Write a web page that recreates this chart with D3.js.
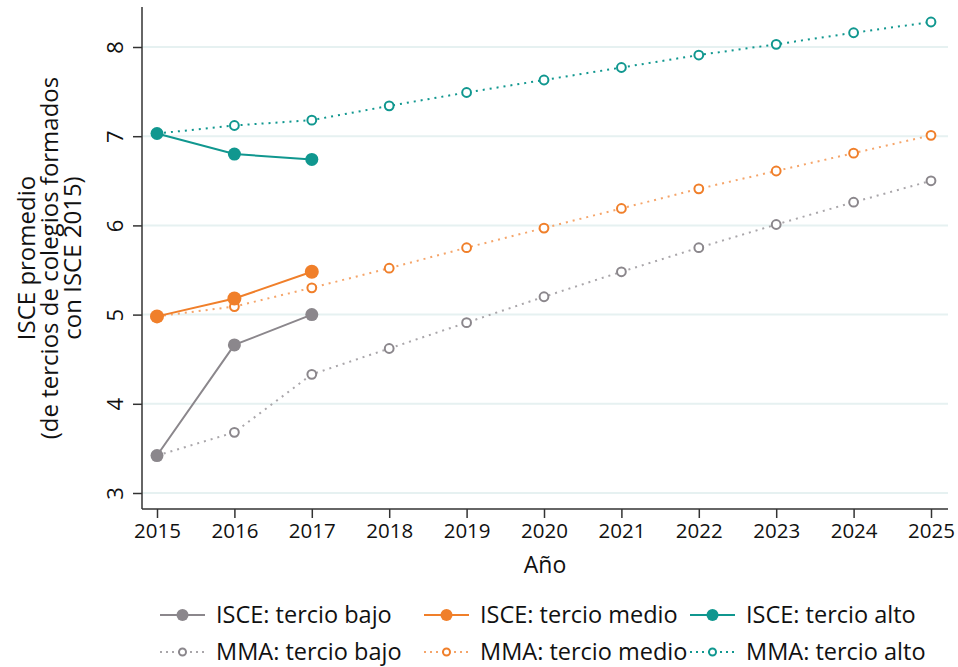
<!DOCTYPE html>
<html>
<head>
<meta charset="utf-8">
<script src="https://d3js.org/d3.v7.min.js"></script>
<style>
  body { margin: 0; background: #fff; }
  text { font-family: "Open Sans", "Lato", sans-serif; fill: #111; }
</style>
</head>
<body>
<script>
    // data
    let years = [2015, 2016, 2017, 2018, 2019, 2020, 2021, 2022, 2023, 2024, 2025];
    let isceYears = [2015, 2016, 2017];

    let isceBajo = [3.42, 4.66, 5.00];
    let isceMedio = [4.98, 5.18, 5.48];
    let isceAlto = [7.03, 6.80, 6.74];

    let mmaBajo = [3.42, 3.68, 4.33, 4.62, 4.91, 5.20, 5.48, 5.75, 6.01, 6.26, 6.50];
    let mmaMedio = [4.98, 5.09, 5.30, 5.52, 5.75, 5.97, 6.19, 6.41, 6.61, 6.81, 7.01];
    let mmaAlto = [7.03, 7.12, 7.18, 7.34, 7.49, 7.63, 7.77, 7.91, 8.03, 8.16, 8.28];

    let yTicks = [3, 4, 5, 6, 7, 8];

    let width = 958, height = 667;
    let plotLeft = 142, plotRight = 948, plotTop = 7, plotBottom = 509;

    let svg = d3.select("body").append("svg")
        .attr("width", width)
        .attr("height", height);

    let x = d3.scaleLinear().domain([2015, 2025]).range([157, 931]);
    let y = d3.scaleLinear().domain([3, 8]).range([493, 47]);

    // gridlines
    svg.append("g")
        .selectAll("line")
        .data(yTicks)
        .join("line")
            .attr("x1", plotLeft)
            .attr("x2", plotRight)
            .attr("y1", d => y(d))
            .attr("y2", d => y(d))
            .attr("stroke", "#e6f1f1")
            .attr("stroke-width", 2);

    // y axis
    let yAxis = svg.append("g")
        .attr("transform", `translate(${plotLeft},0)`)
        .call(d3.axisLeft(y).tickValues(yTicks).tickFormat(d3.format("d")).tickSize(9).tickPadding(8).tickSizeOuter(0));
    yAxis.select(".domain").remove();
    yAxis.selectAll(".tick line").attr("stroke", "#333").attr("stroke-width", 1.5);
    yAxis.selectAll(".tick text")
        .attr("font-size", 22)
        .attr("text-anchor", "middle")
        .attr("x", null)
        .attr("dy", null)
        .attr("transform", "translate(-25,0) rotate(-90)")
        .attr("dominant-baseline", "middle");

    // x axis
    let xAxis = svg.append("g")
        .attr("transform", `translate(0,${plotBottom})`)
        .call(d3.axisBottom(x).tickValues(years).tickFormat(d3.format("d")).tickSize(9).tickPadding(5).tickSizeOuter(0));
    xAxis.select(".domain").remove();
    xAxis.selectAll(".tick line").attr("stroke", "#333").attr("stroke-width", 1.5);
    xAxis.selectAll(".tick text").attr("font-size", 20.5);

    // axis lines
    svg.append("line")
        .attr("x1", plotLeft).attr("x2", plotLeft)
        .attr("y1", plotTop).attr("y2", plotBottom)
        .attr("stroke", "#333").attr("stroke-width", 1.5);
    svg.append("line")
        .attr("x1", plotLeft).attr("x2", plotRight)
        .attr("y1", plotBottom).attr("y2", plotBottom)
        .attr("stroke", "#333").attr("stroke-width", 1.5);

    // axis titles
    svg.append("text")
        .attr("x", 545).attr("y", 573)
        .attr("text-anchor", "middle")
        .attr("font-size", 23)
        .text("Año");

    let yTitle = svg.append("text")
        .attr("transform", "translate(50,258) rotate(-90)")
        .attr("text-anchor", "middle")
        .attr("font-size", 24);
    ["ISCE promedio", "(de tercios de colegios formados", "con ISCE 2015)"].forEach((t, i) => {
        yTitle.append("tspan")
            .attr("x", 0)
            .attr("y", -15 + i * 23)
            .text(t);
    });

    let gray = "#8b878c", orange = "#f07f2a", teal = "#10978f";
    let grayLight = "#a9a6aa", orangeLight = "#f5a56a";

    let line = d3.line().x(d => x(d[0])).y(d => y(d[1]));

    let series = [
        { name: "MMA: tercio bajo", xs: years, vals: mmaBajo, color: grayLight, mark: gray, dashed: true, r: 6.5 },
        { name: "MMA: tercio medio", xs: years, vals: mmaMedio, color: orangeLight, mark: orange, dashed: true, r: 7 },
        { name: "MMA: tercio alto", xs: years, vals: mmaAlto, color: teal, mark: teal, dashed: true, r: 6.5 },
        { name: "ISCE: tercio bajo", xs: isceYears, vals: isceBajo, color: gray, mark: gray, dashed: false, r: 6.5 },
        { name: "ISCE: tercio medio", xs: isceYears, vals: isceMedio, color: orange, mark: orange, dashed: false, r: 7 },
        { name: "ISCE: tercio alto", xs: isceYears, vals: isceAlto, color: teal, mark: teal, dashed: false, r: 6.5 }
    ];

    series.forEach(s => {
        let pts = s.xs.map((yr, i) => [yr, s.vals[i]]);
        svg.append("path")
            .datum(pts)
            .attr("d", line)
            .attr("fill", "none")
            .attr("stroke", s.color)
            .attr("stroke-width", 2)
            .attr("stroke-dasharray", s.dashed ? "2,5" : null);
        svg.append("g")
            .selectAll("circle")
            .data(pts)
            .join("circle")
                .attr("cx", d => x(d[0]))
                .attr("cy", d => y(d[1]))
                .attr("r", s.dashed ? 4.4 : s.r)
                .attr("fill", s.dashed ? "#fff" : s.mark)
                .attr("stroke", s.mark)
                .attr("stroke-width", s.dashed ? 2 : 0);
    });

    // legend
    let legendItems = [
        { name: "ISCE: tercio bajo", color: gray, mark: gray, dashed: false },
        { name: "ISCE: tercio medio", color: orange, mark: orange, dashed: false },
        { name: "ISCE: tercio alto", color: teal, mark: teal, dashed: false },
        { name: "MMA: tercio bajo", color: grayLight, mark: gray, dashed: true },
        { name: "MMA: tercio medio", color: orangeLight, mark: orange, dashed: true },
        { name: "MMA: tercio alto", color: teal, mark: teal, dashed: true }
    ];
    let colX = [160, 424, 690];
    let rowY = [615, 652];

    legendItems.forEach((d, i) => {
        let cx = colX[i % 3], cy = rowY[Math.floor(i / 3)];
        let g = svg.append("g").attr("transform", `translate(${cx},${cy})`);
        g.append("line")
            .attr("x1", 0).attr("x2", 45)
            .attr("stroke", d.color)
            .attr("stroke-width", 2)
            .attr("stroke-dasharray", d.dashed ? "2,4" : null);
        g.append("circle")
            .attr("cx", 22.5)
            .attr("r", d.dashed ? 3.5 : 6)
            .attr("fill", d.dashed ? "#fff" : d.mark)
            .attr("stroke", d.mark)
            .attr("stroke-width", d.dashed ? 2 : 0);
        g.append("text")
            .attr("x", 56)
            .attr("dy", "0.35em")
            .attr("font-size", 23.5)
            .text(d.name);
    });
</script>
</body>
</html>
